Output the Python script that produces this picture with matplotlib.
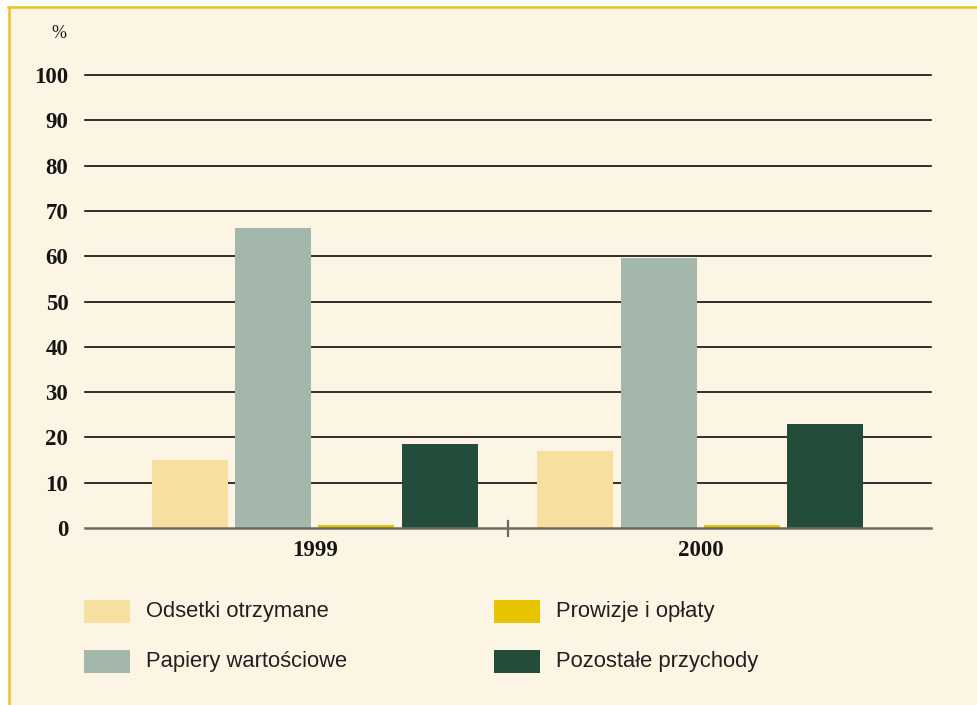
import matplotlib
matplotlib.use("Agg")
import matplotlib.pyplot as plt
from matplotlib import font_manager
from matplotlib.patches import Rectangle
from matplotlib.lines import Line2D
import numpy as np

years = ["1999", "2000"]
series = ["Odsetki otrzymane", "Papiery wartościowe", "Prowizje i opłaty", "Pozostałe przychody"]
values = {
    "Odsetki otrzymane": [15.0, 17.0],
    "Papiery wartościowe": [66.2, 59.7],
    "Prowizje i opłaty": [0.7, 0.7],
    "Pozostałe przychody": [18.5, 23.0],
}
colors = ["#F6DF9F", "#A3B7AC", "#E8C300", "#244C3A"]
yticks = [0, 10, 20, 30, 40, 50, 60, 70, 80, 90, 100]

names = {f.name for f in font_manager.fontManager.ttflist}
sans = "Liberation Sans Narrow" if "Liberation Sans Narrow" in names else "Liberation Sans"
serif = "Liberation Serif"

W, H = 978, 705
fig = plt.figure(figsize=(W / 100, H / 100), dpi=100, facecolor="white")
bg = "#FDF5E4"
fig.patches.append(Rectangle((9 / W, 0), 1 - 9 / W, 1 - 7 / H, transform=fig.transFigure,
                             facecolor=bg, edgecolor="none", zorder=-5))
border = "#EAC51C"
fig.lines.append(Line2D([8 / W, 1], [1 - 7 / H, 1 - 7 / H], transform=fig.transFigure,
                        color=border, lw=1.8, zorder=-4))
fig.lines.append(Line2D([9 / W, 9 / W], [0, 1 - 7 / H], transform=fig.transFigure,
                        color=border, lw=1.8, zorder=-4))

left, right = 85 / W, 931 / W
bottom, top = 1 - 528 / H, 1 - 75 / H
ax = fig.add_axes([left, bottom, right - left, top - bottom])
ax.set_zorder(5)
ax.set_facecolor("none")
for s in ax.spines.values():
    s.set_visible(False)

x = np.arange(len(years))
pitch = 0.216
width = 0.197
for i, name in enumerate(series):
    ax.bar(x + (i - 1.5) * pitch, values[name], width=width, color=colors[i], zorder=3)

ax.set_xlim(-0.596, 1.598)
ax.set_ylim(0, 100)
for v in yticks[1:]:
    ax.axhline(v, color="#0d0d0b", lw=1.2, zorder=2, clip_on=False)
ax.axhline(0, color="#6b6a62", lw=1.8, zorder=4, clip_on=False)
ax.plot([0.5, 0.5], [-1.7, 1.6], color="#6b6a62", lw=1.6, clip_on=False, zorder=4)

ax.set_yticks(yticks)
ax.set_yticklabels([str(v) for v in yticks], fontfamily=serif, fontweight="bold",
                   fontsize=16.5, color="#151515")
ax.set_xticks(x)
ax.set_xticklabels(years, fontfamily=serif, fontweight="bold", fontsize=16.5, color="#151515")
ax.tick_params(axis="y", length=0, pad=12)
ax.tick_params(axis="x", length=0, pad=9)

fig.text(59 / W, 1 - 33 / H, "%", ha="center", va="center", fontfamily=serif,
         fontsize=13, color="#1a1a1a")

# legend (column-wise order)
pos = [(84, 611.5), (84, 661.5), (494, 611.5), (494, 661.5)]
for i, name in enumerate(series):
    px, py = pos[i]
    fig.patches.append(Rectangle((px / W, 1 - (py + 11.5) / H), 46 / W, 23 / H,
                                 transform=fig.transFigure, facecolor=colors[i],
                                 edgecolor="none", zorder=2))
    fig.text((px + 62) / W, 1 - py / H, name, ha="left", va="center", fontfamily=sans,
             fontsize=15.8, color="#231F20")

fig.savefig("out.png", dpi=100, facecolor="white")
